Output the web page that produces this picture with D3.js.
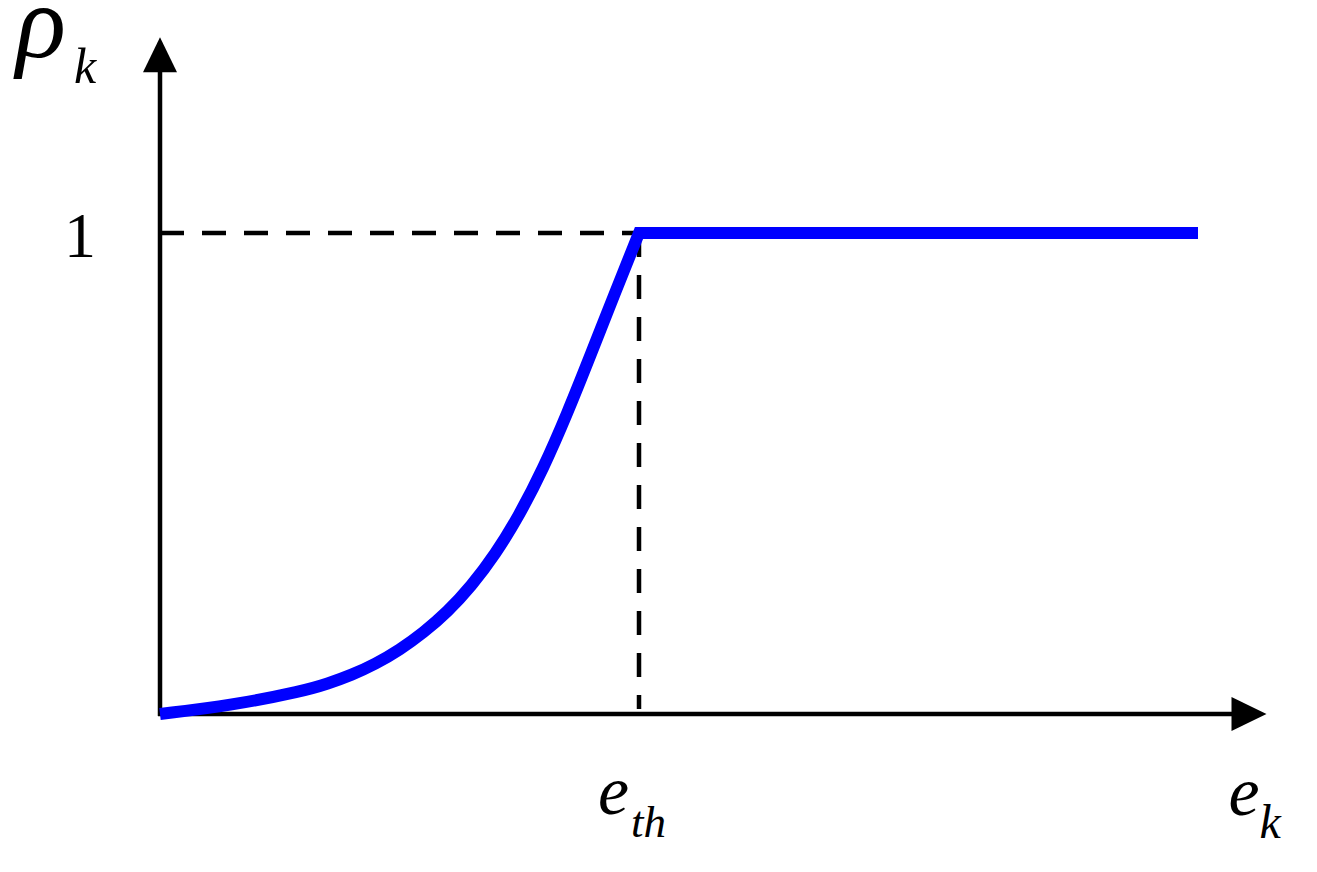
<!DOCTYPE html>
<html>
<head>
<meta charset="utf-8">
<script src="https://cdn.jsdelivr.net/npm/d3@7"></script>
<style>
  body { margin: 0; background: #fff; }
  text { font-family: "Liberation Serif", "Times New Roman", serif; fill: #000; }
</style>
</head>
<body>
<script>
// rising part of rho_k(e_k) (e in units of e_th)
const eRise   = [0, 0.15, 0.30, 0.35, 0.40, 0.45, 0.50, 0.55, 0.60, 0.65, 0.70, 0.75, 0.80, 0.85, 0.90, 0.95, 1];
const rhoRise = [0, 0.018, 0.048, 0.063, 0.081, 0.104, 0.133, 0.169, 0.212, 0.266, 0.332, 0.413, 0.510, 0.624, 0.749, 0.876, 1];
// saturated part
const eFlat   = [1, 2.167];
const rhoFlat = [1, 1];
const eTh = 1;
const rhoMax = 1;
const eAxisEnd = 2.31;
const rhoAxisEnd = 1.407;

const width = 1317, height = 872;

const svg = d3.select("body").append("svg")
    .attr("width", width)
    .attr("height", height);

const x = d3.scaleLinear().domain([0, 1]).range([160, 639]);
const y = d3.scaleLinear().domain([0, 1]).range([714, 233]);

// dashed guides
svg.append("line")
    .attr("x1", x(0)).attr("y1", y(rhoMax))
    .attr("x2", x(eTh)).attr("y2", y(rhoMax))
    .attr("stroke", "#000").attr("stroke-width", 4.5)
    .attr("stroke-dasharray", "24,18");
svg.append("line")
    .attr("x1", x(eTh)).attr("y1", y(rhoMax))
    .attr("x2", x(eTh)).attr("y2", y(0) - 5)
    .attr("stroke", "#000").attr("stroke-width", 4.5)
    .attr("stroke-dasharray", "24,18");

// axes with arrow heads
const ah = 35, aw = 17;
svg.append("line")
    .attr("x1", x(0)).attr("y1", y(0) + 2)
    .attr("x2", x(0)).attr("y2", y(rhoAxisEnd) + ah - 2)
    .attr("stroke", "#000").attr("stroke-width", 4.5);
svg.append("path")
    .attr("d", `M${x(0)},${y(rhoAxisEnd)}L${x(0) - aw},${y(rhoAxisEnd) + ah}L${x(0) + aw},${y(rhoAxisEnd) + ah}Z`)
    .attr("fill", "#000");
svg.append("line")
    .attr("x1", x(0) - 2).attr("y1", y(0))
    .attr("x2", x(eAxisEnd) - ah + 2).attr("y2", y(0))
    .attr("stroke", "#000").attr("stroke-width", 4.5);
svg.append("path")
    .attr("d", `M${x(eAxisEnd)},${y(0)}L${x(eAxisEnd) - ah},${y(0) - aw}L${x(eAxisEnd) - ah},${y(0) + aw}Z`)
    .attr("fill", "#000");

// the curve
const rise = d3.line()
    .x((d, i) => x(eRise[i]))
    .y((d, i) => y(rhoRise[i]))
    .curve(d3.curveBasis);
const flat = d3.line()
    .x((d, i) => x(eFlat[i]))
    .y((d, i) => y(rhoFlat[i]));
svg.append("path")
    .attr("d", rise(eRise) + flat(eFlat).replace(/^M/, "L"))
    .attr("fill", "none")
    .attr("stroke", "#0000ff")
    .attr("stroke-width", 12)
    .attr("stroke-linejoin", "miter")
    .attr("stroke-linecap", "butt");

// labels
svg.append("text")
    .attr("x", 16).attr("y", 57)
    .attr("font-family", "'DejaVu Serif', serif")
    .attr("font-style", "italic")
    .attr("font-size", 104)
    .text("ρ");
svg.append("text")
    .attr("x", 74).attr("y", 83)
    .attr("font-style", "italic")
    .attr("font-size", 50)
    .text("k");

svg.append("text")
    .attr("x", x(0) - 80).attr("y", y(rhoMax) + 24)
    .attr("text-anchor", "middle")
    .attr("font-size", 64)
    .text("1");

const eth = svg.append("text").attr("x", x(eTh) - 41).attr("y", 814).attr("font-style", "italic");
eth.append("tspan").attr("font-size", 70).text("e");
eth.append("tspan").attr("dx", 2).attr("y", 837).attr("font-size", 45).text("th");

const ek = svg.append("text").attr("x", x(eAxisEnd) - 38).attr("y", 815).attr("font-style", "italic");
ek.append("tspan").attr("font-size", 70).text("e");
ek.append("tspan").attr("y", 838).attr("font-size", 48).text("k");
</script>
</body>
</html>
